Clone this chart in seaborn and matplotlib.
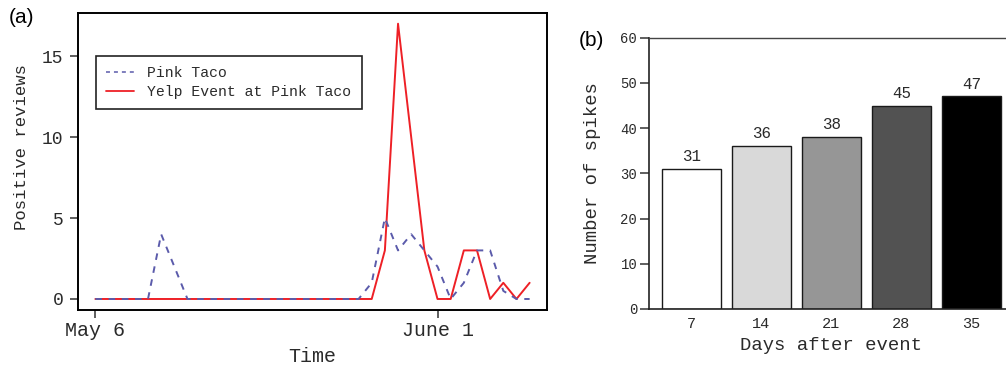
import matplotlib
matplotlib.use("Agg")
import matplotlib.pyplot as plt
import matplotlib.dates as mdates
from matplotlib.lines import Line2D
import numpy as np
import pandas as pd
import seaborn as sns

# ---------------- data ----------------
start_date = "2013-05-06"
pink_taco = [0, 0, 0, 0, 0, 4, 2, 0, 0, 0, 0, 0, 0, 0, 0, 0, 0, 0, 0, 0,
             0, 1, 5, 3, 4, 3, 2, 0, 1, 3, 3, 0.5, 0, 0]
yelp_event = [0, 0, 0, 0, 0, 0, 0, 0, 0, 0, 0, 0, 0, 0, 0, 0, 0, 0, 0, 0,
              0, 0, 3, 17, 10, 3, 0, 0, 3, 3, 0, 1, 0, 1]
series_labels = ["Pink Taco", "Yelp Event at Pink Taco"]
date_ticks = ["2013-05-06", "2013-06-01"]
date_tick_labels = ["May 6", "June 1"]
y_ticks_a = [0, 5, 10, 15]

days_after = ["7", "14", "21", "28", "35"]
spikes = [31, 36, 38, 45, 47]
bar_colors = ["#ffffff", "#d9d9d9", "#969696", "#525252", "#000000"]
y_ticks_b = [0, 10, 20, 30, 40, 50, 60]

# ---------------- style ----------------
sns.set_style("white")
plt.rcParams["font.family"] = ["Liberation Mono", "DejaVu Sans"]
TXT = "#2a2a2a"

W, H = 1006, 366
fig = plt.figure(figsize=(W / 100, H / 100), dpi=100)

# ---------------- panel (a) ----------------
axA = fig.add_axes([78 / W, (H - 310) / H, 469 / W, 297.3 / H])
dates = pd.date_range(start_date, periods=len(pink_taco), freq="D")
red = "#ee2026"
blue = "#5b5bab"
sns.lineplot(x=dates, y=yelp_event, ax=axA, color=red, lw=1.4, zorder=2)
sns.lineplot(x=dates, y=pink_taco, ax=axA, color=blue, lw=1.4,
             linestyle=(0, (3.4, 3.4)), zorder=3)

x0 = mdates.date2num(dates[0])
x1 = mdates.date2num(dates[-1])
span = x1 - x0
axA.set_xlim(x0 - 0.04 * span, x1 + 0.04 * span)
ymax = max(max(pink_taco), max(yelp_event))
axA.set_ylim(-0.04 * ymax, ymax * 1.04)

axA.set_xticks([mdates.date2num(pd.Timestamp(d)) for d in date_ticks])
axA.set_xticklabels(date_tick_labels)
axA.set_yticks(y_ticks_a)
axA.set_yticklabels([str(v) for v in y_ticks_a])
axA.tick_params(axis="x", bottom=True, direction="out", length=6, width=1.1,
                color="#333333", labelsize=14.4, pad=2, labelcolor=TXT)
axA.tick_params(axis="y", left=True, direction="out", length=5.5, width=1.1,
                color="#333333", labelsize=13, pad=5, labelcolor=TXT)
for s in axA.spines.values():
    s.set_visible(True)
    s.set_linewidth(1.4)
    s.set_color("black")

axA.set_xlabel("Time", fontsize=14.4, color=TXT, va="center")
axA.xaxis.set_label_coords(0.5, -0.155)
axA.set_ylabel("Positive reviews", fontsize=12.4, color=TXT, va="center")
axA.yaxis.set_label_coords(-0.12, 0.5466)

leg_handles = [Line2D([], [], color=blue, lw=1.1, linestyle=(0, (2.6, 2.6))),
               Line2D([], [], color=red, lw=1.3)]
leg = axA.legend(handles=leg_handles, labels=series_labels,
                 loc="upper left", bbox_to_anchor=(0.0377, 0.854),
                 borderaxespad=0, frameon=True, fancybox=False,
                 edgecolor="#222222", framealpha=1, fontsize=10.6,
                 handlelength=1.9, handletextpad=0.9, labelspacing=0.3,
                 borderpad=0.7)
leg.get_frame().set_linewidth(1.2)
for t in leg.get_texts():
    t.set_color(TXT)

# ---------------- panel (b) ----------------
axB = fig.add_axes([649 / W, (H - 309) / H, 361 / W, 271.3 / H])
sns.barplot(x=days_after, y=spikes, hue=days_after, palette=bar_colors,
            legend=False, width=1 / 1.2, saturation=1, edgecolor="#1a1a1a",
            linewidth=1.0, ax=axB)
for i, v in enumerate(spikes):
    axB.text(i, v + 1.1, str(v), ha="center", va="bottom", fontsize=11.4, color=TXT)

axB.set_xlim(-0.607, 4.55)
axB.set_ylim(0, 60)
axB.set_yticks(y_ticks_b)
axB.set_yticklabels([str(v) for v in y_ticks_b])
axB.tick_params(axis="y", left=True, direction="out", length=6.5, width=1.1,
                color="#333333", labelsize=10, pad=2, labelcolor=TXT)
axB.tick_params(axis="x", bottom=False, length=0, labelsize=11, pad=5.5,
                labelcolor=TXT)
for name, s in axB.spines.items():
    s.set_color("#222222")
    s.set_linewidth(1.2)
axB.spines["top"].set_visible(True)
axB.spines["top"].set_linewidth(1.0)
axB.spines["top"].set_color("#444444")
axB.spines["right"].set_visible(False)

axB.set_xlabel("Days after event", fontsize=13.6, color=TXT, va="center")
axB.xaxis.set_label_coords(0.504, -0.136)
axB.set_ylabel("Number of spikes", fontsize=13.6, color=TXT, va="center")
axB.yaxis.set_label_coords(-0.156, 0.5)

# ---------------- panel letters ----------------
fig.text(22 / W, 1 - 17.5 / H, "(a)", ha="center", va="center", fontsize=15,
         family=["Liberation Sans", "DejaVu Sans"], color="black")
fig.text(591.3 / W, 1 - 40 / H, "(b)", ha="center", va="center", fontsize=15,
         family=["Liberation Sans", "DejaVu Sans"], color="black")

fig.savefig("out.png", dpi=100)
